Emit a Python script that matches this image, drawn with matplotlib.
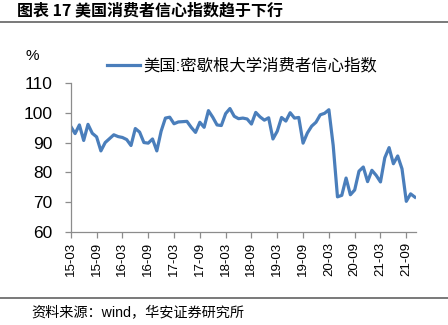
import matplotlib
matplotlib.use("Agg")
import matplotlib.pyplot as plt
from matplotlib.lines import Line2D

plt.rcParams['font.family'] = ['Liberation Sans', 'Noto Sans CJK SC', 'DejaVu Sans']

# 美国:密歇根大学消费者信心指数, monthly 2015-02 .. 2021-10
sentiment = [
    95.4, 93.0, 95.9, 90.7, 96.1, 93.1, 91.9, 87.2, 90.0, 91.3, 92.6,
    92.0, 91.7, 91.0, 89.0, 94.7, 93.5, 90.0, 89.8, 91.2, 87.2, 93.8, 98.2,
    98.5, 96.3, 96.9, 97.0, 97.1, 95.1, 93.4, 96.8, 95.1, 100.7, 98.5, 95.9,
    95.7, 99.7, 101.4, 98.8, 98.0, 98.2, 97.9, 96.2, 100.1, 98.6, 97.5, 98.3,
    91.2, 93.8, 98.4, 97.2, 100.0, 98.2, 98.4, 89.8, 93.2, 95.5, 96.8, 99.3,
    99.8, 101.0, 89.1, 71.8, 72.3, 78.1, 72.5, 74.1, 80.4, 81.8, 76.9, 80.7,
    79.0, 76.8, 84.9, 88.3, 82.9, 85.5, 81.2, 70.3, 72.8, 71.7,
]
tick_labels = ['15-03', '15-09', '16-03', '16-09', '17-03', '17-09', '18-03',
               '18-09', '19-03', '19-09', '20-03', '20-09', '21-03', '21-09']
yticks = [60, 70, 80, 90, 100, 110]

fig = plt.figure(figsize=(4.48, 3.25), dpi=100)
ax = fig.add_axes([0.158, 0.286, 0.771, 0.459])

x = list(range(len(sentiment)))
ax.plot(x, sentiment, color='#4a7ebb', lw=2.3, solid_joinstyle='round',
        label='美国:密歇根大学消费者信心指数')

ax.set_xlim(0, len(sentiment) - 0.7)
ax.set_ylim(60, 110)
ax.set_yticks(yticks)
ax.set_yticklabels([str(v) for v in yticks], fontsize=12.5)
ax.set_xticks(range(0, 6 * len(tick_labels), 6))
ax.set_xticklabels(tick_labels, rotation=90, fontsize=9.5)

for s in ['top', 'right']:
    ax.spines[s].set_visible(False)
for s in ['left', 'bottom']:
    ax.spines[s].set_color('#8c8c8c')
    ax.spines[s].set_linewidth(0.9)
ax.tick_params(axis='both', colors='#8c8c8c', labelcolor='black', length=4, width=0.9)
ax.tick_params(axis='y', pad=9)
ax.tick_params(axis='x', pad=3)

ax.legend(loc='center left', bbox_to_anchor=(0.239, 0.797), bbox_transform=fig.transFigure,
          frameon=False, borderpad=0, borderaxespad=0, handlelength=2.0,
          handletextpad=0.2, fontsize=11.8)

fig.text(0.058, 0.828, '%', fontsize=11, va='center')

fig.text(0.038, 0.969, '图表 17 美国消费者信心指数趋于下行', fontsize=11.5,
         fontweight='bold', va='center', family=['Noto Sans CJK SC', 'DejaVu Sans'])
fig.add_artist(Line2D([0, 1], [0.932, 0.932], color='#6e6e6e', lw=1.3))
fig.add_artist(Line2D([0, 1], [0.083, 0.083], color='#6e6e6e', lw=1.3))
fig.text(0.07, 0.036, '资料来源：wind，华安证券研究所', fontsize=10.2, va='center')

fig.savefig('out.png', dpi=100)
